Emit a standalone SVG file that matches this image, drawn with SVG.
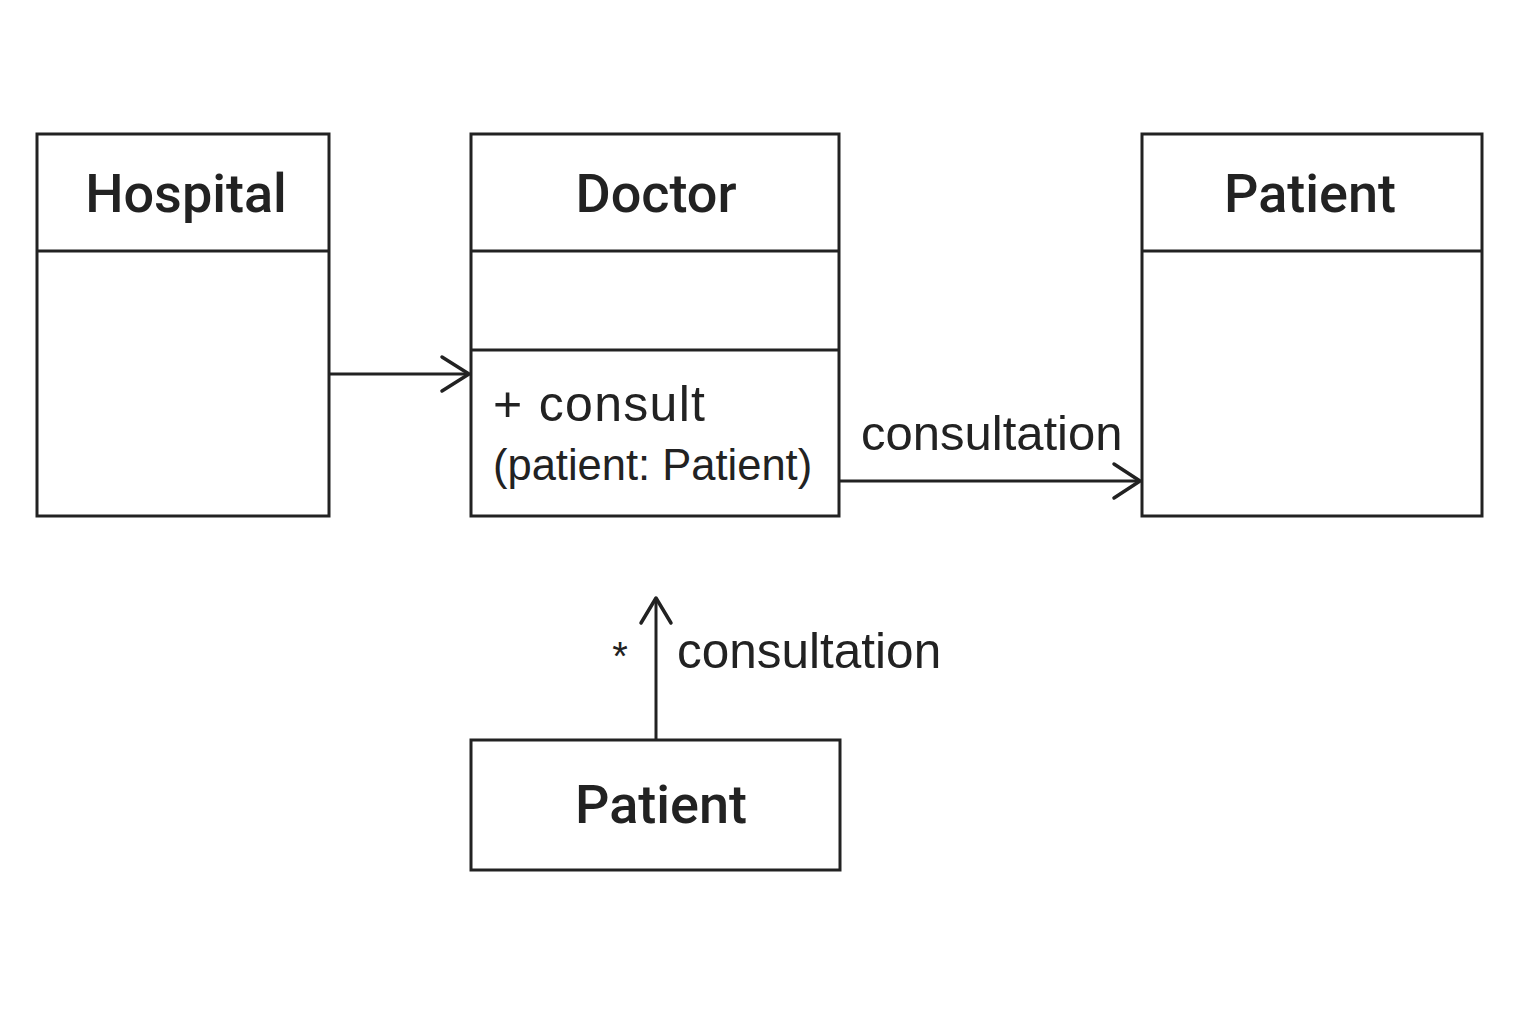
<svg xmlns="http://www.w3.org/2000/svg" width="1536" height="1024" viewBox="0 0 1536 1024">
<style>
.box{fill:#fff;stroke:#222;stroke-width:3}
.div{stroke:#222;stroke-width:3}
.title{font-family:Roboto,"Liberation Sans",sans-serif;font-weight:500;font-size:54px;fill:#222;text-anchor:middle}
.lbl{font-family:"Liberation Sans",Arial,sans-serif;font-size:49px;fill:#222}
.edge{stroke:#222;stroke-width:3;fill:none}
.head{stroke:#222;stroke-width:3.5;fill:none;stroke-linecap:round;stroke-linejoin:round}
</style>
<rect width="1536" height="1024" fill="#fff"/>
<g id="hospital">
<rect class="box" x="37" y="134" width="292" height="382"/>
<line class="div" x1="37" y1="251" x2="329" y2="251"/>
<text class="title" x="186" y="212">Hospital</text>
</g>
<g id="doctor">
<rect class="box" x="471" y="134" width="368" height="382"/>
<line class="div" x1="471" y1="251" x2="839" y2="251"/>
<line class="div" x1="471" y1="350" x2="839" y2="350"/>
<text class="title" x="656" y="212">Doctor</text>
<text class="lbl" x="493" y="421" style="font-size:50px" textLength="212">+ consult</text>
<text class="lbl" x="493" y="480" style="font-size:43.5px">(patient: Patient)</text>
</g>
<g id="patient-right">
<rect class="box" x="1142" y="134" width="340" height="382"/>
<line class="div" x1="1142" y1="251" x2="1482" y2="251"/>
<text class="title" x="1310" y="212">Patient</text>
</g>
<g id="patient-bottom">
<rect class="box" x="471" y="740" width="369" height="130"/>
<text class="title" x="661" y="823">Patient</text>
</g>
<g id="connectors">
<line class="edge" x1="329" y1="374" x2="469" y2="374"/>
<polyline class="head" points="442,357 469,374 442,391"/>
<line class="edge" x1="839" y1="481" x2="1140" y2="481"/>
<polyline class="head" points="1114,464 1140,481 1114,498"/>
<text class="lbl" x="861" y="450">consultation</text>
<line class="edge" x1="656" y1="740" x2="656" y2="599"/>
<polyline class="head" points="641,623 656,598 671,623"/>
<text class="lbl" x="677" y="668" style="font-size:49.5px">consultation</text>
<text class="lbl" x="620" y="670" style="font-size:40px" text-anchor="middle">*</text>
</g>
</svg>
